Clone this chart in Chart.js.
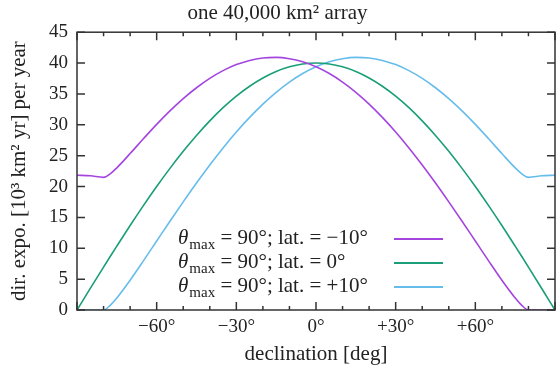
<!DOCTYPE html>
<html>
<head>
<meta charset="utf-8">
<script src="https://cdn.jsdelivr.net/npm/chart.js@4.4.1/dist/chart.umd.min.js"></script>
<style>
  html, body { margin: 0; padding: 0; background: #fff; }
  #wrap { width: 556px; height: 369px; }
</style>
</head>
<body>
<div id="wrap"><canvas id="expo-chart"></canvas></div>
<script>
// declinación [deg]
const declination = [-90, -85, -80, -77.5, -75, -70, -65, -60, -55, -50, -45, -40, -35, -30, -25, -20, -15, -10, -5, 0,
  5, 10, 15, 20, 25, 30, 35, 40, 45, 50, 55, 60, 65, 70, 75, 77.5, 80, 85, 90];

// exposición direccional, lat = -10
const expoLatM10 = [21.82, 21.74, 21.49, 22.06, 23.03, 25.34, 27.74, 30.07, 32.25, 34.24, 36.00, 37.52, 38.77, 39.75, 40.43, 40.82, 40.92, 40.71, 40.20, 39.39,
  38.30, 36.92, 35.27, 33.36, 31.21, 28.84, 26.26, 23.49, 20.57, 17.52, 14.38, 11.17, 7.96, 4.83, 1.96, 0.75, 0, 0, 0];

// lat = 0
const expoLat0 = [0, 3.49, 6.95, 8.66, 10.35, 13.68, 16.90, 20.00, 22.94, 25.71, 28.28, 30.64, 32.77, 34.64, 36.25, 37.59, 38.64, 39.39, 39.85, 40.00,
  39.85, 39.39, 38.64, 37.59, 36.25, 34.64, 32.77, 30.64, 28.28, 25.71, 22.94, 20.00, 16.90, 13.68, 10.35, 8.66, 6.95, 3.49, 0];

// lat = +10
const expoLatP10 = [0, 0, 0, 0.75, 1.96, 4.83, 7.96, 11.17, 14.38, 17.52, 20.57, 23.49, 26.26, 28.84, 31.21, 33.36, 35.27, 36.92, 38.30, 39.39,
  40.20, 40.71, 40.92, 40.82, 40.43, 39.75, 38.77, 37.52, 36.00, 34.24, 32.25, 30.07, 27.74, 25.34, 23.03, 22.06, 21.49, 21.74, 21.82];

const latLabels = ['−10°', '0°', '+10°'];
const colores = ['#a445e0', '#1a9e78', '#66bdec'];
const yTicks = [0, 5, 10, 15, 20, 25, 30, 35, 40, 45];
const xTicks = [-90, -80, -70, -60, -50, -40, -30, -20, -10, 0, 10, 20, 30, 40, 50, 60, 70, 80, 90];

const serif = '"Liberation Serif", "DejaVu Serif", serif';

function puntos(ys) {
  return declination.map((d, i) => ({ x: d, y: ys[i] }));
}

function fmtDeg(v) {
  if (v < 0) return '−' + Math.abs(v) + '°';
  if (v > 0) return '+' + v + '°';
  return '0°';
}

// marco y marcas hacia dentro (estilo gnuplot)
const framePlugin = {
  id: 'frame',
  afterDraw(chart) {
    const ctx = chart.ctx;
    const a = chart.chartArea;
    const xs = chart.scales.x, ys = chart.scales.y;
    ctx.save();
    ctx.strokeStyle = '#333';
    ctx.lineWidth = 1.5;
    ctx.beginPath();
    yTicks.forEach(v => {
      const p = ys.getPixelForValue(v);
      ctx.moveTo(a.left, p); ctx.lineTo(a.left + 8, p);
      ctx.moveTo(a.right, p); ctx.lineTo(a.right - 8, p);
    });
    xTicks.forEach(v => {
      const p = xs.getPixelForValue(v);
      const len = v % 30 === 0 ? 8 : 4;
      ctx.moveTo(p, a.bottom); ctx.lineTo(p, a.bottom - len);
      ctx.moveTo(p, a.top); ctx.lineTo(p, a.top + len);
    });
    ctx.stroke();
    ctx.strokeRect(a.left, a.top, a.right - a.left, a.bottom - a.top);
    ctx.restore();
  }
};

// leyenda con subíndice
const legendPlugin = {
  id: 'subLegend',
  afterDraw(chart) {
    const ctx = chart.ctx;
    const a = chart.chartArea;
    const x0 = a.left + 101;
    const y0 = 239;
    ctx.save();
    ctx.fillStyle = '#222';
    ctx.textBaseline = 'alphabetic';
    latLabels.forEach((lab, i) => {
      const yl = y0 + i * 24;
      const base = yl + 5;
      let x = x0;
      ctx.font = 'italic 21px ' + serif;
      ctx.fillText('θ', x, base);
      x += ctx.measureText('θ').width + 1;
      ctx.font = '15px ' + serif;
      ctx.fillText('max', x, base + 5);
      x += ctx.measureText('max').width;
      ctx.font = '21px ' + serif;
      ctx.fillText(' = 90°; lat. = ' + lab, x, base);
      ctx.strokeStyle = colores[i];
      ctx.lineWidth = 1.8;
      ctx.beginPath();
      ctx.moveTo(a.left + 317, yl);
      ctx.lineTo(a.left + 366, yl);
      ctx.stroke();
    });
    ctx.restore();
  }
};

const chart = new Chart(document.getElementById('expo-chart'), {
  type: 'line',
  data: {
    datasets: [
      { label: 'lat. = ' + latLabels[0], data: puntos(expoLatM10), borderColor: colores[0] },
      { label: 'lat. = ' + latLabels[1], data: puntos(expoLat0), borderColor: colores[1] },
      { label: 'lat. = ' + latLabels[2], data: puntos(expoLatP10), borderColor: colores[2] }
    ]
  },
  options: {
    responsive: true,
    maintainAspectRatio: false,
    animation: false,
    layout: { padding: { left: 0, right: 1, top: 0, bottom: 0 } },
    elements: {
      point: { radius: 0 },
      line: { borderWidth: 1.6, cubicInterpolationMode: 'monotone' }
    },
    plugins: {
      legend: { display: false },
      tooltip: { enabled: false },
      title: {
        display: true,
        text: 'one 40,000 km² array',
        color: '#222',
        font: { family: serif, size: 21, weight: 'normal' },
        padding: { top: 1, bottom: 6 }
      }
    },
    scales: {
      x: {
        type: 'linear',
        min: -90,
        max: 90,
        grid: { display: false, drawTicks: false },
        border: { display: false },
        afterFit(s) { s.height = 59; s.paddingLeft = 0; s.paddingRight = 0; },
        ticks: {
          stepSize: 10,
          autoSkip: false,
          maxRotation: 0,
          padding: 6,
          color: '#222',
          font: { family: serif, size: 19 },
          callback: v => (v % 30 === 0 && Math.abs(v) < 90) ? fmtDeg(v) : ''
        },
        title: {
          display: true,
          text: 'declination [deg]',
          color: '#222',
          font: { family: serif, size: 21 },
          padding: { top: 0, bottom: 2 }
        }
      },
      y: {
        min: 0,
        max: 45,
        grid: { display: false, drawTicks: false },
        border: { display: false },
        afterFit(s) { s.width = 77; s.paddingTop = 0; s.paddingBottom = 0; },
        ticks: {
          stepSize: 5,
          padding: 9,
          color: '#222',
          font: { family: serif, size: 19 }
        },
        title: {
          display: true,
          text: 'dir. expo. [10³ km² yr] per year',
          color: '#222',
          font: { family: serif, size: 21 },
          padding: { top: 7, bottom: 0 }
        }
      }
    }
  },
  plugins: [framePlugin, legendPlugin]
});
</script>
</body>
</html>
